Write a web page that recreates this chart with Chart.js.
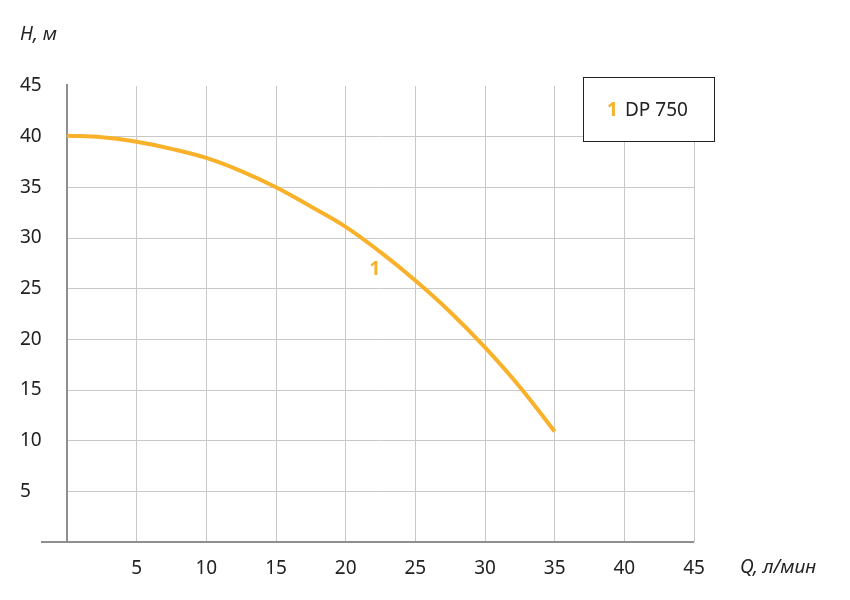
<!DOCTYPE html>
<html>
<head>
<meta charset="utf-8">
<script src="https://cdn.jsdelivr.net/npm/chart.js@4/dist/chart.umd.min.js"></script>
<style>
html,body{margin:0;padding:0;background:#fff;}
#wrap{width:850px;height:600px;position:relative;}
</style>
</head>
<body>
<div id="wrap"><canvas id="c" width="850" height="600"></canvas></div>
<script>
const flowQ = [0, 2.5, 5, 7.5, 10, 12.5, 15, 17.5, 20, 22.5, 25, 27.5, 30, 32.5, 35];
const headH = [40.1, 39.95, 39.5, 38.8, 37.9, 36.6, 35.0, 33.1, 31.1, 28.6, 25.8, 22.7, 19.2, 15.3, 10.9];
const xTicks = [5, 10, 15, 20, 25, 30, 35, 40, 45];
const yTicks = [5, 10, 15, 20, 25, 30, 35, 40, 45];
const seriesName = "DP 750";
const seriesNum = "1";
const yTitle = "H, м";
const xTitle = "Q, л/мин";

const ORANGE = "#F9B12A";
const FONT = "'Noto Sans', 'DejaVu Sans', sans-serif";
const FS = 19;

const overlay = {
  id: 'overlay',
  beforeDatasetsDraw(chart) {
    const ctx = chart.ctx;
    const a = chart.chartArea;
    ctx.save();
    ctx.strokeStyle = '#8f8f8f';
    ctx.lineWidth = 2;
    ctx.beginPath();
    ctx.moveTo(a.left, a.top - 2);
    ctx.lineTo(a.left, a.bottom);
    ctx.moveTo(41, a.bottom);
    ctx.lineTo(a.right, a.bottom);
    ctx.stroke();
    ctx.restore();
  },
  afterDraw(chart) {
    const ctx = chart.ctx;
    const xs = chart.scales.x, ys = chart.scales.y;
    ctx.save();
    ctx.textBaseline = 'middle';
    ctx.font = "italic " + FS + "px " + FONT;
    ctx.fillStyle = '#222';
    ctx.textAlign = 'left';
    ctx.fillText(yTitle, 20, 35);
    ctx.fillText(xTitle, 740, 568);
    // curve label
    ctx.font = "bold " + FS + "px " + FONT;
    ctx.fillStyle = ORANGE;
    ctx.textAlign = 'center';
    ctx.fillText(seriesNum, xs.getPixelForValue(22.1), ys.getPixelForValue(26.9));
    // legend box
    ctx.fillStyle = '#fff';
    ctx.fillRect(583.5, 77.5, 131, 64);
    ctx.strokeStyle = '#222';
    ctx.lineWidth = 1;
    ctx.strokeRect(583.5, 77.5, 131, 64);
    ctx.textAlign = 'left';
    ctx.font = "bold " + FS + "px " + FONT;
    ctx.fillStyle = ORANGE;
    ctx.fillText(seriesNum, 607, 111);
    ctx.font = FS + "px " + FONT;
    ctx.fillStyle = '#222';
    ctx.fillText(seriesName, 625, 111);
    ctx.restore();
  }
};

new Chart(document.getElementById('c'), {
  type: 'line',
  data: {
    datasets: [{
      data: flowQ.map((q, i) => ({x: q, y: headH[i]})),
      borderColor: ORANGE,
      borderWidth: 4,
      pointRadius: 0,
      fill: false,
      tension: 0.4,
      borderCapStyle: 'butt'
    }]
  },
  options: {
    responsive: false,
    animation: false,
    devicePixelRatio: 1,
    layout: {padding: {left: 20, right: 156, top: 86, bottom: 0}},
    plugins: {legend: {display: false}, tooltip: {enabled: false}, title: {display: false}},
    scales: {
      x: {
        type: 'linear', min: 0, max: 45,
        afterBuildTicks(s) { s.ticks = [0].concat(xTicks).map(v => ({value: v})); },
        afterFit(s) { s.height = 58; },
        border: {display: false},
        grid: {
          drawTicks: false,
          color: c => c.tick && c.tick.value === 0 ? 'rgba(0,0,0,0)' : '#c8c8c8',
          lineWidth: 1
        },
        ticks: {
          padding: 15,
          color: '#222',
          font: {family: FONT, size: FS},
          maxRotation: 0,
          callback: v => xTicks.includes(v) ? String(v) : ''
        }
      },
      y: {
        type: 'linear', min: 0, max: 45,
        afterBuildTicks(s) { s.ticks = [0].concat(yTicks).map(v => ({value: v})); },
        afterFit(s) { s.width = 47; },
        border: {display: false},
        grid: {
          drawTicks: false,
          color: c => c.tick && (c.tick.value === 0 || c.tick.value === 45) ? 'rgba(0,0,0,0)' : '#c8c8c8',
          lineWidth: 1
        },
        ticks: {
          crossAlign: 'far',
          padding: 0,
          color: '#222',
          font: {family: FONT, size: FS},
          callback: v => yTicks.includes(v) ? String(v) : ''
        }
      }
    }
  },
  plugins: [overlay]
});
</script>
</body>
</html>
